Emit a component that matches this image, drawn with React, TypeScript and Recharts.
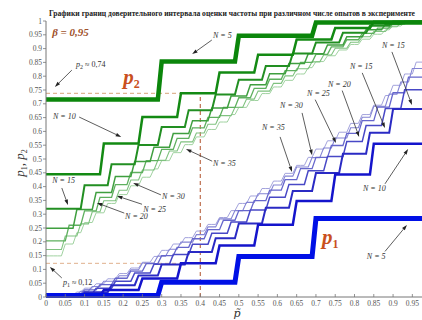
import React from "react";
import { LineChart, Line, XAxis, YAxis, ReferenceLine, ReferenceDot } from "recharts";

// frequency grid p~ the curves were sampled on
const pGrid = Array.from({ length: 99 }, (_, i) => i / 100);
const sampleSizes = [5, 10, 15, 20, 25, 30, 35];

// upper bound p2 and lower bound p1 for m = 1 .. N-1 successes, beta = 0.95
const upper5 = [0.716, 0.853, 0.947, 0.995];
const lower5 = [0.005, 0.053, 0.147, 0.284];
const upper10 = [0.445, 0.556, 0.652, 0.738, 0.813, 0.878, 0.933, 0.975, 0.997];
const lower10 = [0.003, 0.025, 0.067, 0.122, 0.187, 0.262, 0.348, 0.444, 0.555];
const upper15 = [0.32, 0.405, 0.481, 0.551, 0.616, 0.677, 0.734, 0.787, 0.837, 0.882, 0.922, 0.957, 0.983, 0.998];
const lower15 = [0.002, 0.017, 0.043, 0.078, 0.118, 0.163, 0.213, 0.266, 0.323, 0.384, 0.449, 0.519, 0.595, 0.681];
const upper20 = [0.249, 0.317, 0.379, 0.437, 0.491, 0.543, 0.592, 0.639, 0.685, 0.728, 0.769, 0.809, 0.846, 0.881, 0.913, 0.943, 0.968, 0.988, 0.999];
const lower20 = [0.001, 0.012, 0.032, 0.057, 0.087, 0.119, 0.154, 0.191, 0.231, 0.272, 0.315, 0.361, 0.408, 0.457, 0.509, 0.563, 0.621, 0.683, 0.751];
const upper25 = [0.203, 0.26, 0.312, 0.361, 0.407, 0.451, 0.494, 0.535, 0.575, 0.613, 0.651, 0.687, 0.722, 0.756, 0.789, 0.82, 0.85, 0.879, 0.906, 0.932, 0.955, 0.974, 0.99, 0.999];
const lower25 = [0.001, 0.01, 0.026, 0.045, 0.068, 0.094, 0.121, 0.15, 0.18, 0.211, 0.244, 0.278, 0.313, 0.349, 0.387, 0.425, 0.465, 0.506, 0.549, 0.593, 0.639, 0.688, 0.74, 0.797];
const upper30 = [0.172, 0.221, 0.265, 0.309, 0.349, 0.387, 0.424, 0.46, 0.495, 0.529, 0.562, 0.594, 0.626, 0.657, 0.687, 0.717, 0.746, 0.774, 0.801, 0.827, 0.852, 0.877, 0.901, 0.923, 0.943, 0.962, 0.979, 0.992, 0.999];
const lower30 = [0.001, 0.008, 0.021, 0.038, 0.057, 0.077, 0.099, 0.123, 0.148, 0.173, 0.199, 0.226, 0.254, 0.283, 0.313, 0.343, 0.374, 0.406, 0.438, 0.471, 0.505, 0.54, 0.576, 0.613, 0.651, 0.691, 0.735, 0.779, 0.828];
const upper35 = [0.149, 0.192, 0.233, 0.27, 0.305, 0.339, 0.371, 0.403, 0.434, 0.464, 0.494, 0.523, 0.552, 0.58, 0.607, 0.634, 0.661, 0.687, 0.712, 0.737, 0.761, 0.785, 0.808, 0.831, 0.853, 0.874, 0.895, 0.915, 0.934, 0.952, 0.968, 0.982, 0.993, 0.999];
const lower35 = [0.001, 0.007, 0.018, 0.032, 0.048, 0.066, 0.085, 0.105, 0.126, 0.147, 0.169, 0.192, 0.215, 0.239, 0.263, 0.288, 0.313, 0.339, 0.366, 0.393, 0.42, 0.448, 0.477, 0.506, 0.536, 0.566, 0.597, 0.629, 0.661, 0.695, 0.73, 0.767, 0.808, 0.851];

const xTicks = [0, 0.05, 0.1, 0.15, 0.2, 0.25, 0.3, 0.35, 0.4, 0.45, 0.5, 0.55, 0.6, 0.65, 0.7, 0.75, 0.8, 0.85, 0.9, 0.95];
const yTicks = [0, 0.05, 0.1, 0.15, 0.2, 0.25, 0.3, 0.35, 0.4, 0.45, 0.5, 0.55, 0.6, 0.65, 0.7, 0.75, 0.8, 0.85, 0.9, 0.95, 1];

// example read-off at p~ = 0.4, N = 10
const exampleP = 0.4;
const exampleP2 = 0.738;
const exampleP1 = 0.122;

const upperByN: Record<number, number[]> = { 5: upper5, 10: upper10, 15: upper15, 20: upper20, 25: upper25, 30: upper30, 35: upper35 };
const lowerByN: Record<number, number[]> = { 5: lower5, 10: lower10, 15: lower15, 20: lower20, 25: lower25, 30: lower30, 35: lower35 };

const rows = pGrid.map((p, i) => {
  const row: Record<string, number> = { p };
  sampleSizes.forEach((n) => {
    const m = Math.min(n - 1, Math.max(1, Math.round((i * n) / 100)));
    row[`u${n}`] = upperByN[n][m - 1];
    row[`l${n}`] = lowerByN[n][m - 1];
  });
  return row;
});

const greenStyle: Record<number, [string, number]> = {
  5: ["#0b860b", 4.5],
  10: ["#138a13", 2.5],
  15: ["#228f22", 2],
  20: ["#3f9f3f", 1.5],
  25: ["#5eb05e", 1.3],
  30: ["#7fc27f", 1.1],
  35: ["#a0d2a0", 1],
};
const blueStyle: Record<number, [string, number]> = {
  5: ["#0010e6", 5],
  10: ["#1414cc", 2.5],
  15: ["#2a2ac4", 2],
  20: ["#4848c6", 1.5],
  25: ["#6666cc", 1.3],
  30: ["#8484d4", 1.1],
  35: ["#a2a2dc", 1],
};

// callouts: label anchor, arrow tail and head, in data units
const callouts = [
  { text: "N = 5", at: [0.433, 0.938], tail: [0.43, 0.931], head: [0.379, 0.88] },
  { text: "N = 10", at: [0.018, 0.645], tail: [0.086, 0.652], head: [0.195, 0.58] },
  { text: "N = 15", at: [0.016, 0.413], tail: [0.041, 0.395], head: [0.057, 0.333] },
  { text: "N = 20", at: [0.205, 0.283], tail: [0.203, 0.304], head: [0.132, 0.341] },
  { text: "N = 25", at: [0.252, 0.308], tail: [0.249, 0.336], head: [0.184, 0.366] },
  { text: "N = 30", at: [0.301, 0.355], tail: [0.298, 0.37], head: [0.226, 0.413] },
  { text: "N = 35", at: [0.433, 0.475], tail: [0.431, 0.492], head: [0.363, 0.536] },
  { text: "N = 35", at: [0.56, 0.605], tail: [0.607, 0.58], head: [0.638, 0.453] },
  { text: "N = 30", at: [0.607, 0.685], tail: [0.664, 0.667], head: [0.69, 0.514] },
  { text: "N = 25", at: [0.677, 0.728], tail: [0.698, 0.715], head: [0.752, 0.558] },
  { text: "N = 20", at: [0.731, 0.761], tail: [0.768, 0.748], head: [0.812, 0.58] },
  { text: "N = 15", at: [0.788, 0.826], tail: [0.82, 0.812], head: [0.879, 0.612] },
  { text: "N = 15", at: [0.871, 0.902], tail: [0.897, 0.888], head: [0.949, 0.696] },
  { text: "N = 10", at: [0.822, 0.384], tail: [0.879, 0.41], head: [0.939, 0.536] },
  { text: "N = 5", at: [0.832, 0.138], tail: [0.879, 0.165], head: [0.936, 0.261] },
];

const serif = "'Liberation Serif', 'DejaVu Serif', serif";

const fmt = (v: number) => String(Number(v.toFixed(2)));

function XTick({ x, y, payload }: any) {
  return (
    <g>
      <line x1={x} y1={y} x2={x} y2={y - 3} stroke="#777" strokeWidth={0.8} />
      <text x={x} y={y + 8.5} textAnchor="middle" fontSize={7.5} fill="#555" fontFamily={serif}>
        {fmt(payload.value)}
      </text>
    </g>
  );
}

function YTick({ x, y, payload }: any) {
  return (
    <g>
      <line x1={x - 3} y1={y} x2={x} y2={y} stroke="#777" strokeWidth={0.8} />
      <text x={x - 4} y={y + 2.6} textAnchor="end" fontSize={7.5} fill="#555" fontFamily={serif}>
        {fmt(payload.value)}
      </text>
    </g>
  );
}

function Arrow(props: any) {
  const { x1, y1, x2, y2 } = props;
  const ang = Math.atan2(y2 - y1, x2 - x1);
  const len = 5.5;
  const half = 1.8;
  const bx = x2 - len * Math.cos(ang);
  const by = y2 - len * Math.sin(ang);
  const nx = -Math.sin(ang) * half;
  const ny = Math.cos(ang) * half;
  return (
    <g>
      <line x1={x1} y1={y1} x2={bx} y2={by} stroke="#333" strokeWidth={0.8} />
      <polygon points={`${x2},${y2} ${bx + nx},${by + ny} ${bx - nx},${by - ny}`} fill="#222" />
    </g>
  );
}

const textShape = (content: React.ReactNode, style: any) => (p: any) => (
  <text x={p.cx} y={p.cy} fontFamily={serif} {...style}>
    {content}
  </text>
);

export default function App() {
  const drawOrder = [...sampleSizes].reverse();
  return (
    <div style={{ position: "absolute", left: 0, top: 0, width: 422, height: 320, background: "#fff" }}>
      <LineChart width={422} height={320} data={rows} margin={{ top: 21, right: 0, bottom: 0, left: 0 }}>
        <XAxis
          type="number"
          dataKey="p"
          domain={[0, 0.975]}
          allowDataOverflow
          ticks={xTicks}
          interval={0}
          height={23}
          tickSize={0}
          tickMargin={0}
          tickLine={false}
          axisLine={{ stroke: "#777" }}
          tick={<XTick />}
        />
        <YAxis
          type="number"
          domain={[0, 1]}
          ticks={yTicks}
          interval={0}
          width={46}
          tickSize={0}
          tickMargin={0}
          tickLine={false}
          axisLine={{ stroke: "#777" }}
          tick={<YTick />}
        />
        <ReferenceLine segment={[{ x: 0, y: exampleP2 }, { x: exampleP, y: exampleP2 }]} stroke="#d8a37a" strokeDasharray="4 3" />
        <ReferenceLine segment={[{ x: 0, y: exampleP1 }, { x: exampleP, y: exampleP1 }]} stroke="#e0b08c" strokeDasharray="4 3" />
        <ReferenceLine segment={[{ x: exampleP, y: 0 }, { x: exampleP, y: exampleP2 }]} stroke="#b0502a" strokeDasharray="4 3" />
        {drawOrder.map((n) => (
          <Line
            key={`u${n}`}
            type="linear"
            dataKey={`u${n}`}
            stroke={greenStyle[n][0]}
            strokeWidth={greenStyle[n][1]}
            dot={false}
            activeDot={false}
            isAnimationActive={false}
          />
        ))}
        {drawOrder.map((n) => (
          <Line
            key={`l${n}`}
            type="linear"
            dataKey={`l${n}`}
            stroke={blueStyle[n][0]}
            strokeWidth={blueStyle[n][1]}
            dot={false}
            activeDot={false}
            isAnimationActive={false}
          />
        ))}
        {callouts.map((c, i) => (
          <ReferenceLine
            key={`a${i}`}
            segment={[{ x: c.tail[0], y: c.tail[1] }, { x: c.head[0], y: c.head[1] }]}
            shape={<Arrow />}
          />
        ))}
        {callouts.map((c, i) => (
          <ReferenceDot
            key={`t${i}`}
            x={c.at[0]}
            y={c.at[1]}
            r={0}
            shape={textShape(c.text, { fontSize: 8, fontStyle: "italic", fill: "#333" })}
          />
        ))}
        <ReferenceDot
          x={0.016}
          y={0.946}
          r={0}
          shape={textShape("β = 0,95", { fontSize: 11, fontWeight: "bold", fontStyle: "italic", fill: "#a0522d" })}
        />
        <ReferenceDot
          x={0.078}
          y={0.833}
          r={0}
          shape={textShape(
            <>
              <tspan fontStyle="italic">p</tspan>
              <tspan fontSize={6} dy={2}>2</tspan>
              <tspan dy={-2}> ≈ 0,74</tspan>
            </>,
            { fontSize: 8, fill: "#333" }
          )}
        />
        <ReferenceDot
          x={0.044}
          y={0.043}
          r={0}
          shape={textShape(
            <>
              <tspan fontStyle="italic">p</tspan>
              <tspan fontSize={6} dy={2}>1</tspan>
              <tspan dy={-2}> ≈ 0,12</tspan>
            </>,
            { fontSize: 8, fill: "#333" }
          )}
        />
        <ReferenceLine segment={[{ x: 0.067, y: 0.822 }, { x: 0.023, y: 0.761 }]} shape={<Arrow />} />
        <ReferenceLine segment={[{ x: 0.041, y: 0.069 }, { x: 0.01, y: 0.109 }]} shape={<Arrow />} />
        <ReferenceDot
          x={0.2}
          y={0.772}
          r={0}
          shape={textShape(
            <>
              <tspan fontStyle="italic">p</tspan>
              <tspan fontSize={12} dy={4}>2</tspan>
            </>,
            { fontSize: 21, fontWeight: "bold", fill: "#c9501e" }
          )}
        />
        <ReferenceDot
          x={0.716}
          y={0.192}
          r={0}
          shape={textShape(
            <>
              <tspan fontStyle="italic">p</tspan>
              <tspan fontSize={12} dy={4}>1</tspan>
            </>,
            { fontSize: 21, fontWeight: "bold", fill: "#c9501e" }
          )}
        />
      </LineChart>
      <svg width={422} height={320} style={{ position: "absolute", left: 0, top: 0, pointerEvents: "none" }}>
        <text
          x={49}
          y={16}
          fontFamily={serif}
          fontSize={7.5}
          fontWeight="bold"
          fill="#222"
          textLength={366}
          lengthAdjust="spacingAndGlyphs"
        >
          Графики границ доверительного интервала оценки частоты при различном числе опытов в эксперименте
        </text>
        <text transform="rotate(-90)" x={-163} y={24} textAnchor="middle" fontFamily={serif} fontSize={13} fill="#333">
          <tspan fontStyle="italic">p</tspan>
          <tspan fontSize={8} dy={3}>1</tspan>
          <tspan dy={-3}>, </tspan>
          <tspan fontStyle="italic">p</tspan>
          <tspan fontSize={8} dy={3}>2</tspan>
        </text>
        <text x={237} y={317} textAnchor="middle" fontFamily="'DejaVu Serif', serif" fontSize={11} fontStyle="italic" fill="#333">
          {"p\u0303"}
        </text>
      </svg>
    </div>
  );
}
